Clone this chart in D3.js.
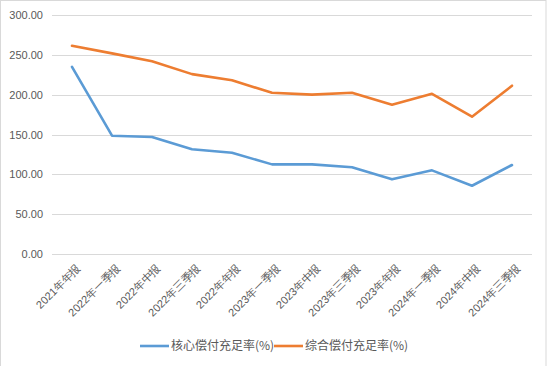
<!DOCTYPE html>
<html><head><meta charset="utf-8">
<script src="https://cdn.jsdelivr.net/npm/d3@7"></script>
<style>
html,body{margin:0;padding:0;background:#fff;}
svg{display:block;font-family:"Noto Sans CJK SC","Noto Sans",sans-serif;}
</style></head>
<body><svg id="c" width="547" height="366"></svg>
<script>
const categories = ["2021年年报","2022年一季报","2022年中报","2022年三季报","2022年年报","2023年一季报","2023年中报","2023年三季报","2023年年报","2024年一季报","2024年中报","2024年三季报"];
const coreRatio = [235.0, 148.5, 146.8, 131.4, 127.0, 112.5, 112.5, 108.8, 93.7, 105.0, 85.7, 111.7];
const compRatio = [261.4, 251.8, 242.0, 225.8, 218.0, 202.4, 200.0, 202.4, 187.3, 201.0, 172.3, 211.2];
const seriesNames = ["核心偿付充足率(%)", "综合偿付充足率(%)"];
const yTicks = [0, 50, 100, 150, 200, 250, 300];
const colors = ["#5B9BD5", "#ED7D31"];

(function(){
const svg = d3.select("#c");
svg.append("rect").attr("x",0.5).attr("y",0.5).attr("width",545.5).attr("height",380)
  .attr("fill","#fff").attr("stroke","#D9D9D9");

const pLeft = 52, pRight = 532, pTop = 15, pBottom = 254;
const x = d3.scalePoint().domain(categories).range([pLeft+20, pRight-20]);
const y = d3.scaleLinear().domain([0,300]).range([pBottom, pTop]);

// grid
svg.append("g").selectAll("line").data(yTicks).join("line")
  .attr("x1",pLeft).attr("x2",pRight)
  .attr("y1",d=>Math.round(y(d))+0.5).attr("y2",d=>Math.round(y(d))+0.5)
  .attr("stroke","#D9D9D9").attr("stroke-width",1);

// y axis labels
const yAxis = d3.axisLeft(y).tickValues(yTicks).tickFormat(d3.format(".2f")).tickSize(0).tickPadding(9);
const gy = svg.append("g").attr("transform",`translate(${pLeft},0)`).call(yAxis);
gy.select(".domain").remove();
gy.selectAll("text").attr("fill","#595959").style("font-size","11px").style("font-family","'Liberation Sans',Arial,sans-serif");

// x axis labels
const xAxis = d3.axisBottom(x).tickSize(0).tickPadding(0);
const gx = svg.append("g").attr("transform",`translate(0,${pBottom})`).call(xAxis);
gx.select(".domain").remove();
gx.selectAll("text")
  .attr("fill","#595959").style("font-size","11px")
  .attr("text-anchor","end")
  .attr("dy","0.35em")
  .attr("transform","translate(6,12) rotate(-45)")
  .attr("x",0).attr("y",0);

// lines
const line = d3.line().x((d,i)=>x(categories[i])).y(d=>y(d));
[coreRatio, compRatio].forEach((s,k)=>{
  svg.append("path").datum(s).attr("d",line).attr("fill","none")
    .attr("stroke",colors[k]).attr("stroke-width",2.6)
    .attr("stroke-linejoin","round").attr("stroke-linecap","round");
});

// legend
const legX = [140, 274];
seriesNames.forEach((n,k)=>{
  const g = svg.append("g").attr("transform",`translate(${legX[k]},346)`);
  g.append("line").attr("x1",0).attr("x2",29).attr("y1",0).attr("y2",0)
    .attr("stroke",colors[k]).attr("stroke-width",2.6);
  g.append("text").attr("x",31).attr("y",0).attr("dy","0.35em")
    .attr("fill","#595959").style("font-size","12px").text(n);
});
})();
</script></body></html>
